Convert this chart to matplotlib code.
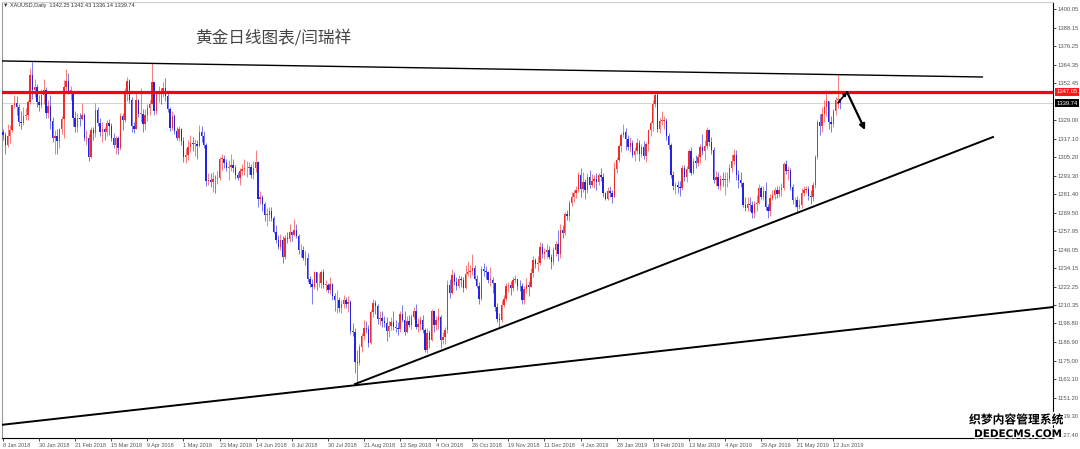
import matplotlib
matplotlib.use('Agg')
import matplotlib.pyplot as plt
import matplotlib.patheffects as pe
from matplotlib.transforms import blended_transform_factory
import numpy as np

# ---------------- data ----------------
header_text = "\u25bc XAUUSD,Daily  1342.25 1342.43 1336.14 1339.74"
title_text = "黄金日线图表/闫瑞祥"

first_open = 1321.5

closes = [
    1319.6, 1312.9, 1318.7, 1322.4, 1338.4,
    1340.0, 1337.2, 1327.5, 1327.0, 1331.8,
    1332.0, 1340.4, 1358.0, 1348.0, 1350.0,
    1340.4, 1338.9, 1344.8, 1348.0, 1333.5,
    1338.0, 1328.5, 1317.5, 1318.5, 1315.5,
    1323.0, 1329.5, 1350.0, 1354.0, 1347.5,
    1347.5, 1330.5, 1324.5, 1330.0, 1329.5,
    1332.5, 1317.5, 1317.5, 1305.5, 1322.5,
    1320.5, 1335.5, 1327.0, 1321.0, 1323.5,
    1321.5, 1327.0, 1325.0, 1317.5, 1313.0,
    1317.5, 1311.0, 1331.5, 1329.0, 1347.5,
    1354.0, 1341.5, 1325.0, 1323.5,
    1342.0, 1333.0, 1333.0, 1326.5, 1332.5,
    1336.5, 1339.5, 1353.0, 1334.5, 1345.5,
    1347.5, 1346.0, 1349.5, 1344.5, 1336.0,
    1324.0, 1331.5, 1322.0, 1317.5, 1323.0,
    1315.5, 1305.5, 1306.5, 1311.5, 1314.5,
    1313.5, 1313.5, 1312.5, 1321.5, 1319.0,
    1313.0, 1290.0, 1290.5, 1289.0, 1291.5,
    1291.0, 1292.0, 1304.0, 1304.0, 1301.5,
    1298.0, 1299.0, 1300.0, 1298.5, 1293.5,
    1292.0, 1296.5, 1297.5, 1298.0, 1298.0,
    1299.0, 1294.0, 1298.0, 1302.0, 1278.5,
    1279.5, 1275.0, 1268.5, 1268.5, 1270.5,
    1266.5, 1257.5, 1252.5, 1248.0, 1252.5,
    1241.5, 1253.5, 1253.0, 1257.5, 1255.5,
    1258.5, 1255.0, 1245.5, 1245.5, 1241.0,
    1240.5, 1227.5, 1224.0, 1222.0, 1231.5,
    1224.5, 1225.0, 1231.5, 1223.5, 1223.5,
    1220.5, 1224.0, 1216.5, 1213.5, 1214.0,
    1208.5, 1211.0, 1213.5, 1211.5, 1212.5,
    1194.0, 1193.5, 1174.0, 1173.5, 1184.0,
    1190.5, 1196.0, 1195.5, 1186.5, 1206.0,
    1212.0, 1210.0, 1201.5, 1202.0, 1200.5,
    1199.0, 1194.0, 1197.0, 1200.0, 1196.5,
    1196.0, 1195.0, 1205.0, 1201.0, 1193.5,
    1200.5, 1198.0, 1203.0, 1207.0, 1196.5,
    1198.5, 1201.0, 1194.5, 1182.0, 1192.5,
    1188.5, 1206.5, 1197.5, 1201.0, 1203.0,
    1188.5, 1190.0, 1194.5, 1223.5, 1218.0,
    1229.5, 1225.5, 1222.5, 1227.5, 1226.5,
    1221.5, 1230.5, 1232.0, 1232.5, 1234.0,
    1227.5, 1223.0, 1214.5, 1233.5, 1232.5,
    1231.5, 1226.5, 1226.5, 1224.5, 1209.5,
    1201.5, 1201.0, 1210.5, 1214.5, 1222.5,
    1223.5, 1221.5, 1226.5, 1227.0, 1223.0,
    1222.5, 1213.5, 1221.0, 1223.5, 1222.0,
    1231.0, 1239.5, 1237.0, 1237.5, 1248.0,
    1243.0, 1244.5, 1246.0, 1241.5, 1238.0,
    1245.5, 1249.5, 1243.0, 1258.5, 1256.5,
    1269.0, 1267.5, 1276.0, 1280.0,
    1282.5, 1284.5, 1294.0, 1285.0,
    1289.5, 1284.0, 1292.5, 1287.5, 1290.0,
    1291.0, 1289.0, 1293.5, 1292.5, 1282.0,
    1278.5, 1283.5, 1282.5, 1279.5, 1297.5,
    1303.5, 1312.5, 1319.5, 1321.5, 1317.0,
    1312.0, 1314.5, 1306.5, 1309.0, 1314.5,
    1307.5, 1311.5, 1306.0, 1313.5, 1322.5,
    1327.0, 1339.5, 1345.0, 1323.5, 1328.5,
    1328.5, 1328.5, 1318.5, 1313.0, 1293.5,
    1286.5, 1287.5, 1286.0, 1285.5, 1298.0,
    1292.5, 1297.5, 1309.0, 1295.0, 1302.5,
    1301.5, 1305.5, 1311.5, 1309.0, 1312.5,
    1322.5, 1315.0, 1310.0, 1290.5, 1292.5,
    1286.5, 1291.5, 1290.5, 1290.5, 1291.5,
    1298.0, 1303.0, 1306.5, 1293.5, 1290.5,
    1288.5, 1274.5, 1272.5, 1275.5,
    1274.5, 1269.5, 1275.5, 1276.0, 1285.5,
    1280.0, 1283.5, 1273.0, 1270.5, 1279.0,
    1281.0, 1284.5, 1281.5, 1284.5, 1285.5,
    1301.0, 1296.5, 1297.0, 1286.0, 1277.5,
    1277.5, 1273.5, 1274.5, 1282.5, 1284.5,
    1285.0, 1280.5, 1279.5, 1287.5, 1305.5,
    1327.5, 1325.0, 1333.0, 1337.5, 1341.0,
    1327.5, 1326.5, 1334.5, 1342.0, 1342.25,
    1339.74,
]

highs = [
    1323.0, 1321.0, 1326.5, 1325.5, 1338.9,
    1344.8, 1344.2, 1339.5, 1334.5, 1337.0,
    1336.5, 1342.0, 1362.0, 1366.2, 1355.0,
    1352.0, 1345.0, 1349.0, 1355.5, 1350.0,
    1341.5, 1345.0, 1331.0, 1322.5, 1323.5,
    1324.0, 1331.5, 1354.5, 1361.5, 1359.0,
    1350.5, 1347.5, 1334.5, 1333.5, 1333.5,
    1340.0, 1333.5, 1322.5, 1320.0, 1324.5,
    1324.5, 1340.0, 1337.5, 1330.0, 1328.0,
    1324.5, 1329.0, 1329.5, 1327.0, 1320.5,
    1318.5, 1319.0, 1333.5, 1333.5, 1349.5,
    1356.5, 1355.5, 1343.5, 1328.0,
    1346.5, 1342.5, 1349.5, 1336.0, 1336.0,
    1339.0, 1342.0, 1365.5, 1353.5, 1347.5,
    1351.0, 1349.5, 1353.0, 1356.0, 1347.0,
    1337.5, 1335.0, 1333.0, 1324.5, 1325.0,
    1324.0, 1318.0, 1311.0, 1316.5, 1319.5,
    1318.0, 1317.0, 1316.0, 1325.5, 1325.0,
    1322.0, 1314.0, 1295.0, 1295.0, 1295.5,
    1293.5, 1296.5, 1305.5, 1307.5, 1306.5,
    1304.0, 1303.5, 1307.5, 1304.0, 1300.5,
    1296.0, 1298.5, 1301.0, 1304.0, 1303.0,
    1302.0, 1301.0, 1303.0, 1309.5, 1303.0,
    1283.5, 1281.0, 1276.5, 1272.5, 1273.5,
    1273.0, 1267.5, 1262.0, 1255.5, 1256.0,
    1255.0, 1255.5, 1257.5, 1262.5, 1258.0,
    1265.5, 1262.5, 1256.0, 1249.5, 1248.5,
    1245.0, 1244.0, 1229.0, 1227.0, 1232.5,
    1232.0, 1231.0, 1233.0, 1233.5, 1226.5,
    1225.0, 1228.5, 1225.0, 1218.5, 1220.0,
    1216.0, 1214.0, 1217.0, 1216.0, 1216.5,
    1213.5, 1199.0, 1196.0, 1181.5, 1185.5,
    1193.0, 1201.0, 1200.5, 1197.5, 1207.5,
    1214.5, 1214.0, 1211.5, 1207.0, 1207.0,
    1203.5, 1203.0, 1200.5, 1203.0, 1206.5,
    1201.0, 1199.5, 1207.0, 1210.5, 1207.0,
    1203.5, 1204.5, 1205.0, 1209.5, 1211.5,
    1202.5, 1203.5, 1204.5, 1196.0, 1196.0,
    1194.5, 1208.0, 1207.5, 1203.5, 1208.5,
    1204.0, 1193.5, 1196.5, 1226.5, 1227.5,
    1233.5, 1232.0, 1228.5, 1229.5, 1229.0,
    1228.5, 1236.5, 1239.0, 1236.0, 1243.0,
    1236.0, 1230.0, 1225.5, 1235.5, 1237.5,
    1235.5, 1232.5, 1235.0, 1228.5, 1225.0,
    1212.0, 1205.5, 1213.5, 1217.0, 1225.0,
    1225.5, 1226.0, 1228.5, 1229.5, 1227.5,
    1226.5, 1224.5, 1222.5, 1228.0, 1226.0,
    1234.5, 1242.0, 1241.0, 1242.0, 1251.0,
    1250.5, 1247.0, 1249.5, 1248.5, 1243.5,
    1248.0, 1251.5, 1258.5, 1262.5, 1261.5,
    1270.0, 1271.5, 1277.5, 1283.0,
    1284.5, 1287.0, 1296.0, 1298.5,
    1295.5, 1291.0, 1295.0, 1297.0, 1294.5,
    1294.0, 1295.0, 1295.0, 1298.0, 1295.0,
    1283.0, 1286.0, 1286.5, 1284.0, 1302.0,
    1305.5, 1313.5, 1320.5, 1326.5, 1324.0,
    1319.5, 1318.0, 1316.0, 1311.5, 1317.5,
    1316.5, 1313.5, 1315.5, 1315.0, 1323.5,
    1328.5, 1341.5, 1346.8, 1346.0, 1330.0,
    1334.5, 1331.5, 1330.5, 1320.5, 1314.5,
    1296.5, 1289.0, 1290.0, 1290.0, 1300.0,
    1300.0, 1299.5, 1310.5, 1311.5, 1304.5,
    1306.5, 1307.5, 1313.5, 1320.0, 1316.5,
    1324.5, 1323.0, 1318.0, 1311.5, 1296.5,
    1295.5, 1294.0, 1296.0, 1295.5, 1296.0,
    1301.0, 1307.5, 1310.5, 1309.5, 1297.0,
    1295.5, 1289.0, 1279.5, 1279.5,
    1279.5, 1277.0, 1277.0, 1281.0, 1288.0,
    1286.5, 1286.5, 1289.5, 1275.0, 1281.5,
    1284.5, 1286.0, 1287.0, 1286.5, 1288.5,
    1302.0, 1303.5, 1299.5, 1298.0, 1288.0,
    1279.5, 1280.5, 1278.5, 1285.5, 1287.0,
    1287.0, 1287.0, 1284.0, 1289.5, 1306.5,
    1329.0, 1333.0, 1337.0, 1341.5, 1348.0,
    1340.0, 1331.5, 1336.0, 1344.0, 1358.5,
    1342.43,
]

lows = [
    1316.0, 1307.5, 1312.0, 1314.5, 1321.0,
    1336.5, 1332.2, 1325.0, 1323.0, 1325.5,
    1329.0, 1329.0, 1339.5, 1342.5, 1343.5,
    1337.5, 1334.5, 1336.5, 1339.5, 1330.0,
    1330.0, 1323.5, 1315.0, 1307.0, 1307.5,
    1311.0, 1320.0, 1317.5, 1347.5, 1345.5,
    1342.0, 1325.0, 1321.5, 1321.0, 1325.0,
    1329.0, 1315.5, 1313.0, 1302.5, 1304.5,
    1316.0, 1318.0, 1325.0, 1318.5, 1315.0,
    1316.5, 1318.5, 1319.5, 1315.5, 1311.0,
    1307.5, 1307.0, 1309.5, 1322.5, 1327.5,
    1341.0, 1340.0, 1321.5, 1320.5,
    1323.5, 1331.0, 1327.5, 1321.5, 1322.5,
    1328.5, 1332.0, 1339.0, 1332.0, 1333.0,
    1340.5, 1339.5, 1343.5, 1341.0, 1334.0,
    1322.0, 1322.5, 1320.0, 1316.0, 1315.5,
    1313.0, 1302.0, 1301.5, 1303.5, 1308.5,
    1309.0, 1306.0, 1304.0, 1311.5, 1315.0,
    1311.0, 1287.0, 1287.5, 1286.0, 1283.0,
    1282.0, 1288.0, 1290.5, 1297.0, 1298.5,
    1296.5, 1290.5, 1296.5, 1296.0, 1291.0,
    1290.5, 1287.5, 1293.5, 1294.0, 1292.5,
    1294.5, 1292.0, 1291.0, 1296.0, 1273.0,
    1275.5, 1270.5, 1264.5, 1261.0, 1264.5,
    1264.5, 1256.5, 1250.5, 1246.5, 1246.0,
    1237.5, 1240.0, 1250.5, 1251.0, 1251.5,
    1254.5, 1253.5, 1243.5, 1241.5, 1239.5,
    1236.5, 1225.5, 1222.0, 1211.5, 1221.0,
    1220.5, 1222.0, 1221.5, 1221.5, 1219.5,
    1218.5, 1217.5, 1213.5, 1206.5, 1205.5,
    1206.0, 1205.5, 1208.5, 1209.0, 1206.0,
    1192.0, 1190.5, 1167.0, 1160.0, 1172.5,
    1180.5, 1188.0, 1192.5, 1184.0, 1185.5,
    1203.0, 1205.0, 1198.5, 1198.0, 1196.5,
    1196.5, 1187.5, 1190.0, 1194.5, 1194.5,
    1193.5, 1191.5, 1193.5, 1199.5, 1191.5,
    1192.5, 1196.5, 1195.5, 1201.5, 1195.5,
    1193.5, 1194.5, 1192.5, 1180.5, 1180.0,
    1183.0, 1187.5, 1193.5, 1194.5, 1195.5,
    1183.0, 1185.5, 1185.5, 1192.5, 1215.0,
    1217.5, 1223.5, 1220.0, 1221.5, 1222.0,
    1219.0, 1221.0, 1229.0, 1228.0, 1229.5,
    1226.5, 1221.5, 1211.0, 1213.5, 1229.0,
    1227.5, 1225.0, 1223.0, 1218.0, 1207.0,
    1199.5, 1196.5, 1199.5, 1209.5, 1213.0,
    1219.0, 1217.0, 1219.5, 1224.5, 1220.0,
    1219.5, 1211.0, 1211.5, 1218.5, 1216.5,
    1222.0, 1228.5, 1234.0, 1232.5, 1236.5,
    1240.5, 1240.0, 1240.5, 1240.0, 1233.5,
    1236.0, 1242.0, 1239.0, 1240.5, 1253.5,
    1255.5, 1265.0, 1264.5, 1274.0,
    1276.5, 1279.0, 1283.0, 1280.0,
    1283.0, 1278.5, 1282.5, 1285.5, 1286.0,
    1285.5, 1284.5, 1287.5, 1290.0, 1280.0,
    1277.5, 1278.0, 1279.5, 1276.0, 1279.5,
    1295.0, 1302.0, 1308.5, 1318.0, 1310.0,
    1310.0, 1308.5, 1305.0, 1302.5, 1307.0,
    1302.5, 1305.5, 1304.0, 1302.0, 1309.0,
    1319.0, 1322.0, 1337.5, 1321.0, 1320.5,
    1325.5, 1323.5, 1316.0, 1310.5, 1292.0,
    1284.0, 1281.5, 1282.5, 1280.5, 1284.0,
    1290.0, 1289.0, 1296.0, 1293.5, 1294.5,
    1298.5, 1299.5, 1301.5, 1306.5, 1303.5,
    1310.5, 1312.5, 1307.0, 1288.5, 1286.5,
    1285.0, 1284.5, 1286.5, 1281.0, 1286.0,
    1289.5, 1295.5, 1300.5, 1290.5, 1285.5,
    1286.0, 1273.0, 1270.5, 1270.5,
    1270.5, 1266.0, 1266.5, 1270.5, 1275.5,
    1278.5, 1277.5, 1271.5, 1266.0, 1267.5,
    1277.5, 1278.5, 1279.0, 1279.5, 1280.5,
    1284.5, 1294.5, 1290.5, 1284.5, 1275.0,
    1273.5, 1269.5, 1272.0, 1272.5, 1280.5,
    1282.5, 1278.0, 1275.5, 1277.0, 1285.5,
    1304.0, 1319.5, 1321.5, 1328.0, 1331.5,
    1323.5, 1321.5, 1324.5, 1332.5, 1336.5,
    1336.14,
]

date_labels = ["8 Jan 2018", "30 Jan 2018", "21 Feb 2018", "15 Mar 2018", "9 Apr 2018",
               "1 May 2018", "23 May 2018", "14 Jun 2018", "6 Jul 2018", "30 Jul 2018",
               "21 Aug 2018", "12 Sep 2018", "4 Oct 2018", "26 Oct 2018", "19 Nov 2018",
               "11 Dec 2018", "4 Jan 2019", "28 Jan 2019", "19 Feb 2019", "13 Mar 2019",
               "4 Apr 2019", "29 Apr 2019", "21 May 2019", "12 Jun 2019"]
bars_per_label = 16

price_ticks = [1400.05, 1388.15, 1376.25, 1364.35, 1352.45, 1329.00, 1317.10, 1305.20,
               1293.30, 1281.40, 1269.50, 1257.95, 1246.05, 1234.15, 1222.25, 1210.35,
               1198.80, 1186.90, 1175.00, 1163.10, 1151.20, 1139.30, 1127.40]

resistance_level = 1347.05
current_price = 1339.74

# trend lines (bar index, price)
top_line = ([-1.3, 434.4], [1366.8, 1356.5])
rising_line = ([156.0, 438.8], [1160.0, 1318.1])
long_line = ([-1.3, 465.4], [1133.8, 1209.3])
arrow_up = ((370.1, 1339.9), (374.1, 1346.9))
arrow_down = ((374.1, 1346.9), (382.1, 1322.6))

# ---------------- figure ----------------
plt.rcParams['font.family'] = ['Liberation Sans', 'DejaVu Sans']
W, H = 1080, 449
fig = plt.figure(figsize=(W / 100, H / 100), dpi=100)
fig.patch.set_facecolor('white')
ax = fig.add_axes([2 / W, 11 / H, 1051 / W, 436 / H])

n = min(len(closes), len(highs), len(lows))
c = np.array(closes[:n])
h = np.array(highs[:n])
l = np.array(lows[:n])
o = np.concatenate([[first_open], c[:-1]])
x = np.arange(n)
up = c >= o
bull_col = '#f22a2a'
bear_col = '#2323e6'
cols = np.where(up, bull_col, bear_col)

hi = np.maximum(h, np.maximum(o, c))
lo = np.minimum(l, np.minimum(o, c))
ax.vlines(x, lo, hi, colors=cols, linewidth=0.6, alpha=0.7, zorder=2)
body_bottom = np.minimum(o, c)
body_h = np.maximum(np.abs(c - o), 0.5)
ax.bar(x, body_h, bottom=body_bottom, width=0.62, color=cols, linewidth=0, zorder=3)

# lines
ax.axhline(current_price, color='#cccccc', linewidth=0.6, zorder=1)
ax.axhline(resistance_level, color='#ff0000', linewidth=2.3, zorder=4)
ax.plot(*top_line, color='black', linewidth=1.0, zorder=5, solid_capstyle='butt')
ax.plot(*rising_line, color='black', linewidth=1.4, zorder=5)
ax.plot(*long_line, color='black', linewidth=1.4, zorder=5)
ax.annotate('', xy=arrow_up[1], xytext=arrow_up[0],
            arrowprops=dict(arrowstyle='-|>', color='black', lw=1.2, mutation_scale=5,
                            shrinkA=0, shrinkB=0), zorder=6)
ax.annotate('', xy=arrow_down[1], xytext=arrow_down[0],
            arrowprops=dict(arrowstyle='-|>', color='black', lw=1.6, mutation_scale=8,
                            shrinkA=0, shrinkB=0), zorder=6)

# limits
ax.set_xlim(-0.44, 465.4)
ax.set_ylim(1125.5, 1404.5)

# spines
for s in ['bottom', 'right']:
    ax.spines[s].set_color('black')
    ax.spines[s].set_linewidth(0.8)
ax.spines['left'].set_color('#9a9a9a')
ax.spines['top'].set_color('#d0d0d0')

# y ticks on right
ax.yaxis.tick_right()
ax.set_yticks(price_ticks)
ax.set_yticklabels([f"{v:.2f}" for v in price_ticks])
ax.tick_params(axis='y', which='both', direction='out', length=2, width=0.5,
               labelsize=4.2, pad=1.5, colors='black', labelcolor='#555555')

# x ticks
xt = [i * bars_per_label for i in range(len(date_labels))]
ax.set_xticks(xt)
ax.set_xticklabels(date_labels)
for t in ax.get_xticklabels():
    t.set_ha('left')
ax.tick_params(axis='x', direction='out', length=2, width=0.5, labelsize=4.0, pad=1.5,
               labelcolor='#555555')

# price boxes on the right
trans = blended_transform_factory(ax.transAxes, ax.transData)
ax.text(1.003, resistance_level, f"{resistance_level:.2f}", transform=trans, ha='left',
        va='center', fontsize=4.2, color='white', zorder=10, clip_on=False,
        bbox=dict(boxstyle='square,pad=0.25', facecolor='#ff1a1a', edgecolor='none'))
ax.text(1.003, current_price, f"{current_price:.2f}", transform=trans, ha='left',
        va='center', fontsize=4.2, color='white', zorder=10, clip_on=False,
        bbox=dict(boxstyle='square,pad=0.25', facecolor='black', edgecolor='none'))

# header and title
fig.text(3 / W, 1 - 6 / H, header_text, fontsize=4.0, color='#333333', ha='left',
         va='center', family=['Liberation Sans', 'DejaVu Sans'])
fig.text(273 / W, 1 - 38 / H, title_text, fontsize=12, color='#444444', ha='center',
         va='center', family=['Noto Sans CJK SC', 'DejaVu Sans'])

# watermark
stroke = [pe.withStroke(linewidth=2.2, foreground='white')]
fig.text(1016 / W, 1 - 420 / H, "织梦内容管理系统", fontsize=8.5, fontweight='bold',
         color='black', ha='center', va='center', family=['Noto Sans CJK SC', 'DejaVu Sans'],
         path_effects=stroke, zorder=20)
fig.text(1018 / W, 1 - 434 / H, "DEDECMS.COM", fontsize=7.5, fontweight='bold',
         color='black', ha='center', va='center', family=['DejaVu Sans'],
         path_effects=stroke, zorder=20)

fig.savefig('out.png', dpi=100, facecolor='white')
